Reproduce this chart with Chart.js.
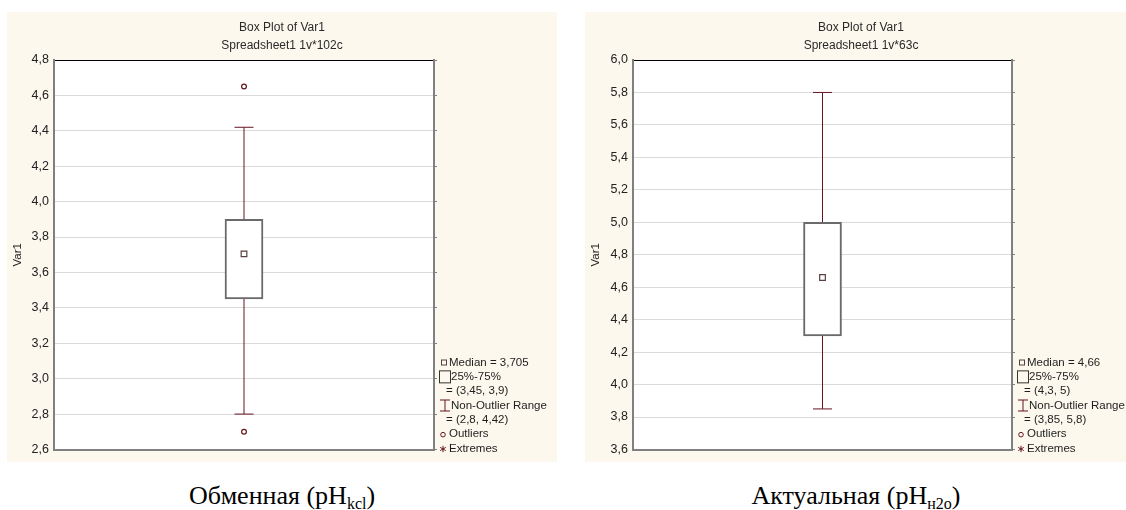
<!DOCTYPE html>
<html>
<head>
<meta charset="utf-8">
<script src="https://cdn.jsdelivr.net/npm/chart.js@4.4.0/dist/chart.umd.min.js"></script>
<style>
  body { margin: 0; width: 1126px; height: 510px; background: #fff; overflow: hidden; position: relative; }
  .panel { position: absolute; top: 12px; height: 450px; background: #fcf8ed; }
  #p1 { left: 7px; width: 550px; }
  #p2 { left: 585px; width: 552px; }
  .caption { position: absolute; top: 482px; line-height: 28px; font-family: 'Liberation Serif', 'Times New Roman', serif; font-size: 26px; color: #000; white-space: nowrap; transform: translateX(-50%); }
  .caption sub { font-size: 16px; vertical-align: -5px; }
</style>
</head>
<body>
<div class="panel" id="p1"><canvas id="c1" width="550" height="450"></canvas></div>
<div class="panel" id="p2"><canvas id="c2" width="552" height="450"></canvas></div>
<div class="caption" style="left:282px">Обменная (pH<sub>kcl</sub>)</div>
<div class="caption" style="left:856px">Актуальная (pH<sub>н2о</sub>)</div>
<script>
// box plot stats for each sample
const labels = ['Var1']
const panelTitles = [['Box Plot of Var1', 'Spreadsheet1 1v*102c'], ['Box Plot of Var1', 'Spreadsheet1 1v*63c']]
const yMin = [2.6, 3.6]
const yMax = [4.8, 6.0]
const whiskerLow = [2.8, 3.85]
const quartile1 = [3.45, 4.3]
const medians = [3.705, 4.66]
const quartile3 = [3.9, 5]
const whiskerHigh = [4.42, 5.8]
const outliers = [[4.65, 2.7], []]

const FONT = "'Liberation Sans', Arial, sans-serif"
const maroon = '#661520'
const boxGray = '#6a6a6a'
const axisGray = '#808080'

// decimal comma like the original software
const fmt = v => String(v).replace('.', ',')

// white plot area
const plotBg = {
    id: 'plotBg',
    beforeDraw(chart) {
        const a = chart.chartArea
        chart.ctx.save()
        chart.ctx.fillStyle = '#fff'
        chart.ctx.fillRect(a.left, a.top, a.right - a.left, a.bottom - a.top)
        chart.ctx.restore()
    }
}

// statistica style legend block on the right
const statLegend = {
    id: 'statLegend',
    afterDraw(chart, args, opts) {
        const i = opts.index
        const ctx = chart.ctx
        const a = chart.chartArea
        const x0 = a.right
        const step = 14.33
        const rowY = k => a.bottom - 1 - step * (6 - k)
        ctx.save()
        ctx.font = '11.5px ' + FONT
        ctx.fillStyle = '#1e1e1e'
        ctx.textBaseline = 'middle'
        ctx.textAlign = 'left'

        // median
        ctx.strokeStyle = '#5a4040'
        ctx.lineWidth = 1
        ctx.strokeRect(x0 + 7.5, rowY(0) - 2.5, 5, 5)
        ctx.fillText('Median = ' + fmt(medians[i]), x0 + 15, rowY(0))

        // quartiles
        ctx.strokeStyle = '#333'
        ctx.strokeRect(x0 + 5.5, rowY(1) - 6, 11, 12)
        ctx.fillText('25%-75%', x0 + 17, rowY(1))
        ctx.fillText('= (' + fmt(quartile1[i]) + ', ' + fmt(quartile3[i]) + ')', x0 + 12, rowY(2))

        // non-outlier range
        ctx.strokeStyle = maroon
        ctx.beginPath()
        const iy = rowY(3)
        ctx.moveTo(x0 + 6, iy - 5.5); ctx.lineTo(x0 + 16, iy - 5.5)
        ctx.moveTo(x0 + 11, iy - 5.5); ctx.lineTo(x0 + 11, iy + 5.5)
        ctx.moveTo(x0 + 6, iy + 5.5); ctx.lineTo(x0 + 16, iy + 5.5)
        ctx.stroke()
        ctx.fillText('Non-Outlier Range', x0 + 17, rowY(3))
        ctx.fillText('= (' + fmt(whiskerLow[i]) + ', ' + fmt(whiskerHigh[i]) + ')', x0 + 12, rowY(4))

        // outliers
        ctx.beginPath()
        ctx.arc(x0 + 9, rowY(5) + 0.5, 2.3, 0, Math.PI * 2)
        ctx.stroke()
        ctx.fillText('Outliers', x0 + 15, rowY(5))

        // extremes (asterisk)
        const ex = x0 + 9, ey = rowY(6) + 0.5
        ctx.beginPath()
        for (let k = 0; k < 3; k++) {
            const ang = Math.PI / 2 + k * Math.PI / 3
            ctx.moveTo(ex - Math.cos(ang) * 3.2, ey - Math.sin(ang) * 3.2)
            ctx.lineTo(ex + Math.cos(ang) * 3.2, ey + Math.sin(ang) * 3.2)
        }
        ctx.stroke()
        ctx.fillText('Extremes', x0 + 15, rowY(6))
        ctx.restore()
    }
}

function makeBoxPlot(canvasId, i, axisWidth, rightWidth) {
    const pt = v => ({ x: labels[0], y: v })
    return new Chart(document.getElementById(canvasId), {
        type: 'bar',
        data: {
            labels: labels,
            datasets: [
                {
                    type: 'line', label: 'whisker',
                    data: [pt(whiskerLow[i]), pt(whiskerHigh[i])],
                    borderColor: maroon, borderWidth: 1, pointRadius: 0, order: 5
                },
                {
                    type: 'bar', label: 'box',
                    data: [[quartile1[i], quartile3[i]]],
                    backgroundColor: '#fff', borderColor: boxGray, borderWidth: 2,
                    borderSkipped: false, barThickness: 38, order: 4
                },
                {
                    type: 'line', label: 'caps',
                    data: [pt(whiskerLow[i]), pt(whiskerHigh[i])],
                    showLine: false, pointStyle: 'line', pointRadius: 9.5,
                    pointBorderColor: maroon, pointBorderWidth: 1, order: 3
                },
                {
                    type: 'line', label: 'median',
                    data: [pt(medians[i])],
                    showLine: false, pointStyle: 'rect', pointRadius: 4,
                    pointBackgroundColor: '#fff', pointBorderColor: '#5a4040', pointBorderWidth: 1.2, order: 2
                },
                {
                    type: 'line', label: 'outliers',
                    data: outliers[i].map(pt),
                    showLine: false, pointStyle: 'circle', pointRadius: 2.4,
                    pointBackgroundColor: '#fff', pointBorderColor: maroon, pointBorderWidth: 1.2, order: 1
                }
            ]
        },
        options: {
            responsive: false,
            animation: false,
            events: [],
            layout: { padding: 0 },
            plugins: {
                legend: { display: false },
                tooltip: { enabled: false },
                title: {
                    display: true, text: panelTitles[i], color: '#2a2a2a',
                    font: { family: FONT, size: 12, weight: 'normal', lineHeight: 1.5 },
                    padding: { top: 7, bottom: 5 }
                },
                statLegend: { index: i }
            },
            scales: {
                x: {
                    ticks: { display: false },
                    grid: { display: false },
                    border: { color: axisGray, width: 2 },
                    afterFit: s => { s.height = 10 }
                },
                x2: {
                    type: 'linear', position: 'top',
                    ticks: { display: false },
                    grid: { display: false },
                    border: { color: '#000', width: 1 },
                    afterFit: s => { s.height = 0 }
                },
                y: {
                    min: yMin[i], max: yMax[i],
                    ticks: {
                        stepSize: 0.2, padding: 5, color: '#222',
                        font: { family: FONT, size: 12.5 },
                        callback: v => v.toFixed(1).replace('.', ',')
                    },
                    grid: { color: '#dadada', drawTicks: false },
                    border: { color: axisGray, width: 2 },
                    title: { display: true, text: 'Var1', color: '#222', font: { family: FONT, size: 11.5 } },
                    afterFit: s => { s.width = axisWidth }
                },
                // right frame edge with short outward ticks; its box also holds the legend
                y2: {
                    position: 'right',
                    min: yMin[i], max: yMax[i],
                    ticks: { display: false, stepSize: 0.2 },
                    grid: { drawOnChartArea: false, drawTicks: true, tickLength: 3, color: axisGray },
                    border: { color: axisGray, width: 2 },
                    afterFit: s => { s.width = rightWidth }
                }
            }
        },
        plugins: [plotBg, statLegend]
    })
}

makeBoxPlot('c1', 0, 47, 123)
makeBoxPlot('c2', 1, 48, 125)
</script>
</body>
</html>
